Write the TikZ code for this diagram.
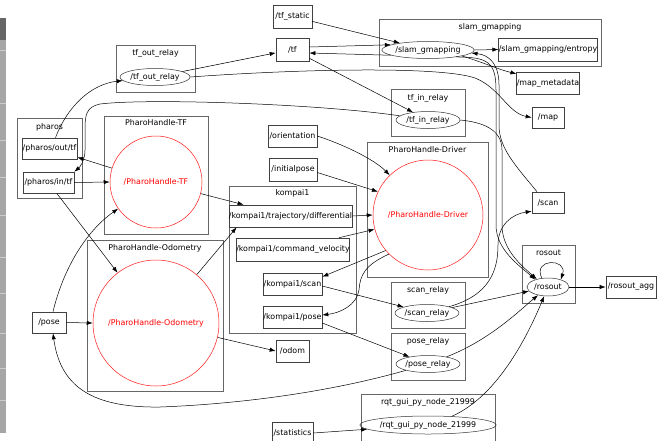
\documentclass[tikz,border=0pt]{standalone}
\usepackage{fontspec}
\setmainfont{DejaVu Sans}
\usetikzlibrary{arrows.meta,shapes.geometric}
\begin{document}
\begin{tikzpicture}[x=1pt,y=-1pt,
  every node/.style={font=\fontsize{7.9}{9}\selectfont, inner sep=0pt},
  topic/.style={draw=black!75, line width=0.6pt, rectangle},
  cluster/.style={draw=black!60, line width=0.6pt},
  rnode/.style={draw=black!80, ellipse, line width=0.5pt},
  rcirc/.style={draw=red!90, circle, line width=0.5pt, text=red},
  arr/.style={-{Latex[length=6pt,width=4.2pt]}, line width=0.5pt, black},
  ln/.style={line width=0.5pt, black}]
\useasboundingbox (0,0) rectangle (666,440);
% left strip
\fill[black!60] (0,18) rectangle (6,40);
\fill[black!35] (0,40) rectangle (6,433);
\foreach \yy in {50,103,140,177,215,257,293,333,368,400}
  \draw[black!20, line width=0.6pt] (0,\yy) -- (6,\yy);
% clusters
\draw[cluster] (116,45) rectangle (195,92);
\node (tfoutT) at (155.5,53) {tf\_out\_relay};
\draw[cluster] (17,118) rectangle (82,198);
\node (pharosT) at (49.5,127) {pharos};
\draw[cluster] (379,19) rectangle (601,66);
\node (slamT) at (490,27) {slam\_gmapping};
\draw[cluster] (391,89) rectangle (465,136);
\node (tfinT) at (428,98) {tf\_in\_relay};
\draw[cluster] (104,116) rectangle (208,234);
\node (ptfT) at (156,123) {PharoHandle-TF};
\draw[cluster] (87,240) rectangle (223,391);
\node (podoT) at (155,248) {PharoHandle-Odometry};
\draw[cluster] (367,142) rectangle (488,277);
\node (pdrvT) at (427.5,150) {PharoHandle-Driver};
\draw[cluster] (229,186) rectangle (356,333);
\node (kompaiT) at (292.5,193) {kompai1};
\draw[cluster] (522,245) rectangle (575,303);
\node (rosoutT) at (548.5,253) {rosout};
\draw[cluster] (391,282) rectangle (465,328);
\node (scanrT) at (428,290) {scan\_relay};
\draw[cluster] (391,333) rectangle (465,380);
\node (poserT) at (428,341) {pose\_relay};
\draw[cluster] (361,394) rectangle (495,446);
\node (rqtT) at (428,402) {rqt\_gui\_py\_node\_21999};
% topics
\node[topic, minimum width=39pt, minimum height=23pt] (tfstatic) at (292.5,16.5) {/tf\_static};
\node[topic, minimum width=33pt, minimum height=23pt] (tf) at (292.5,49.5) {/tf};
\node[topic, minimum width=96pt, minimum height=23pt] (entropy) at (548,49.5) {/slam\_gmapping/entropy};
\node[topic, minimum width=62pt, minimum height=22pt] (mapmeta) at (548,83) {/map\_metadata};
\node[topic, minimum width=32pt, minimum height=21pt] (map) at (548,117.5) {/map};
\node[topic, minimum width=49pt, minimum height=22pt] (orientation) at (292.5,136) {/orientation};
\node[topic, minimum width=48pt, minimum height=23pt] (initialpose) at (293,169.5) {/initialpose};
\node[topic, minimum width=121pt, minimum height=22pt] (traj) at (290.5,216) {/kompai1/trajectory/differential};
\node[topic, minimum width=112pt, minimum height=23pt] (cmdvel) at (293,249.5) {/kompai1/command\_velocity};
\node[topic, minimum width=59pt, minimum height=22pt] (kscan) at (292.5,284) {/kompai1/scan};
\node[topic, minimum width=59pt, minimum height=22pt] (kpose) at (292.5,317) {/kompai1/pose};
\node[topic, minimum width=33pt, minimum height=22pt] (odom) at (292.5,351) {/odom};
\node[topic, minimum width=41pt, minimum height=22pt] (statistics) at (292.5,433) {/statistics};
\node[topic, minimum width=32pt, minimum height=21pt] (scan) at (548,202.5) {/scan};
\node[topic, minimum width=50pt, minimum height=22pt] (rosoutagg) at (631,287) {/rosout\_agg};
\node[topic, minimum width=34pt, minimum height=21pt] (pose) at (49,322.5) {/pose};
\node[topic, minimum width=55pt, minimum height=21pt] (pharosout) at (49.5,148.5) {/pharos/out/tf};
\node[topic, minimum width=51pt, minimum height=21pt] (pharosin) at (48.5,182.5) {/pharos/in/tf};
% ros nodes
\node[rnode, minimum width=70pt, minimum height=17pt] (tfoutE) at (155,77) {/tf\_out\_relay};
\node[rnode, minimum width=86pt, minimum height=17pt] (slamE) at (428,50) {/slam\_gmapping};
\node[rnode, minimum width=64pt, minimum height=17pt] (tfinE) at (428,120) {/tf\_in\_relay};
\node[rnode, minimum width=42pt, minimum height=18pt] (rosoutE) at (548,287) {/rosout};
\node[rnode, minimum width=64pt, minimum height=17pt] (scanrE) at (427,313) {/scan\_relay};
\node[rnode, minimum width=64pt, minimum height=17pt] (poserE) at (428,364) {/pose\_relay};
\node[rnode, minimum width=122pt, minimum height=18pt] (rqtE) at (428,425) {/rqt\_gui\_py\_node\_21999};
\node[rcirc, minimum size=92pt] (ptf) at (156,182) {/PharoHandle-TF};
\node[rcirc, minimum size=126pt] (podo) at (156,323) {/PharoHandle-Odometry};
\node[rcirc, minimum size=110pt] (pdrv) at (428,215) {/PharoHandle-Driver};
% edges
\draw[arr] ([xshift=6pt]pharosout.north) .. controls (68,105) and (92,84) .. (tfoutE);
\draw[arr] (tfoutE) -- (tf);
\draw[arr] (tfoutE.east) .. controls (300,69) and (440,66) .. (475,78) .. controls (500,88) and (508,113) .. (map.west);
\draw[arr] (tfstatic) -- (slamE);
\draw[arr] ([yshift=2.5pt]tf.east) -- (slamE.172);
\draw[arr] (slamE.188) -- ([yshift=-3.5pt]tf.east);
\draw[arr] (tf) -- (tfinE);
\draw[arr] (tfinE) .. controls (320,104) and (150,98) .. (100,104) .. controls (86,107) and (85,115) .. (85,130) -- (85,150) .. controls (85,160) and (80,167) .. (pharosin.north east);
\draw[arr] (ptf) -- (pharosout);
\draw[arr] (pharosin.east) -- (ptf.west);
\draw[arr] (pharosin) -- (podo);
\draw[arr] ([xshift=4pt]pose.north) .. controls (63,270) and (85,232) .. (ptf);
\draw[arr] (pose.east) -- (podo.west);
\draw[arr] (ptf) -- ([xshift=15pt]traj.north west);
\draw[arr] (podo) -- ([xshift=8pt]traj.south west);
\draw[arr] (podo) -- (odom.west);
\draw[arr] (poserE) .. controls (330,392) and (240,404) .. (160,407) .. controls (90,408) and (60,385) .. ([xshift=4pt]pose.south);
\draw[arr] ([yshift=-6pt]kpose.east) -- (poserE);
\draw[arr] ([yshift=-2pt]kscan.east) -- (scanrE);
\draw[arr] (pdrv.220) -- ([yshift=-4pt]kscan.north east);
\draw[arr] (pdrv.225) .. controls (365,265) and (360,275) .. (359,290) .. controls (357,305) and (340,313) .. ([yshift=2pt]kpose.east);
\draw[arr] (traj.east) -- (pdrv.west);
\draw[arr] ([xshift=-11pt]cmdvel.north east) -- (pdrv.195);
\draw[arr] (orientation.east) .. controls (345,145) and (375,160) .. (pdrv);
\draw[arr] ([yshift=-3pt]initialpose.east) -- (pdrv.155);
\draw[arr] (scanrE) .. controls (490,295) and (498,270) .. (498,245) .. controls (498,225) and (512,214) .. ([yshift=2pt]scan.south west);
\draw[arr] (scanrE) -- (rosoutE);
\draw[arr] (poserE) .. controls (490,340) and (520,310) .. (rosoutE);
\draw[arr] (rqtE.20) .. controls (500,395) and (530,330) .. (rosoutE);
\draw[arr] (statistics.east) -- (rqtE);
\draw[arr] (slamE.east) -- (entropy.west);
\draw[arr] (slamE.-10) .. controls (485,63) and (500,70) .. ([yshift=-2pt]mapmeta.north west);
\draw[arr] (rosoutE.east) -- (rosoutagg.west);
\draw[arr] (rosoutE.125) .. controls (532,258) and (568,258) .. (rosoutE.30);
\draw[arr] (slamE.-14) .. controls (488,57) and (496,62) .. (496,90) -- (496,225) .. controls (496,250) and (520,266) .. (rosoutE.150);
\draw[arr] ([xshift=-11pt]scan.north) .. controls (515,165) and (499,148) .. (499,125) -- (499,85) .. controls (499,65) and (490,55) .. (slamE.-4);
\draw[arr] (tfinE.east) .. controls (480,122) and (502,128) .. (502,150) -- (502,225) .. controls (502,250) and (522,266) .. (rosoutE.145);
\end{tikzpicture}
\end{document}
